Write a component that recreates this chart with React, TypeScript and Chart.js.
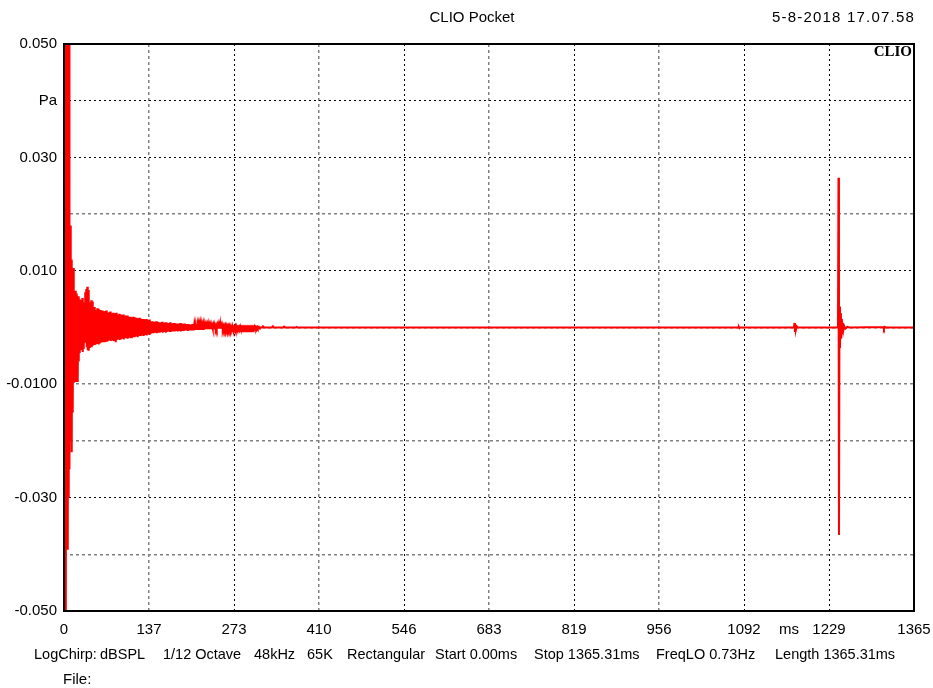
import React, { useEffect, useRef } from "react";
import { Chart, registerables } from "chart.js";

Chart.register(...registerables);

// ---------- data ----------
const X_TICKS_MS = [0, 136.531, 273.062, 409.593, 546.124, 682.655, 819.186, 955.717, 1092.248, 1228.779, 1365.31];
const X_TICK_LABELS = ["0", "137", "273", "410", "546", "683", "819", "956", "1092", "1229", "1365"];
const Y_TICKS = [-0.05, -0.04, -0.03, -0.02, -0.01, 0, 0.01, 0.02, 0.03, 0.04, 0.05];
const Y_TICK_LABELS = ["-0.050", "", "-0.030", "", "-0.0100", "", "0.010", "", "0.030", "Pa", "0.050"];

// initial impulse (ms, Pa)
const IMPULSE_MS = [0, 0.8, 1.6, 2.2, 2.8, 3.4, 4.0, 4.6, 5.2, 5.8, 6.4, 7.0, 7.6, 8.2, 8.8];
const IMPULSE_PA = [0, 0.09, -0.08, 0.085, -0.08, 0.047, -0.013, 0.07, -0.039, 0.065, -0.039, 0.06, -0.03, 0.055, -0.025];

// decaying ringing: per sample pair, the positive peak (RING_HI) then the negative peak (RING_LO)
const RING_START_MS = 10.04;
const RING_STEP_MS = 1.60625;
const RING_HALF_MS = 0.8;
const RING_HI = [
  0.018, 0.012, 0.0105, 0.0105, 0.0065, 0.0065, 0.006, 0.0055, 0.0055, 0.005,
  0.0045, 0.0048, 0.0052, 0.0044, 0.0041, 0.0062, 0.0068, 0.0072, 0.0066, 0.0044,
  0.0042, 0.0048, 0.0046, 0.0035, 0.0036, 0.0031, 0.003, 0.0034, 0.0033, 0.0029,
  0.0031, 0.0028, 0.003, 0.0027, 0.0028, 0.0029, 0.003, 0.0026, 0.0025, 0.0027,
  0.0028, 0.0025, 0.0024, 0.0026, 0.0023, 0.0025, 0.0026, 0.0022, 0.0022, 0.0024,
  0.0023, 0.0021, 0.0022, 0.0023, 0.002, 0.0021, 0.002, 0.0021, 0.0019, 0.0018,
  0.0019, 0.0018, 0.0017, 0.0019, 0.0018, 0.0016, 0.0017, 0.0016, 0.0015, 0.0017,
  0.0016, 0.0015, 0.0014, 0.0015, 0.0014, 0.0014, 0.0015, 0.0013, 0.0013, 0.0014,
  0.0011, 0.001, 0.0011, 0.001, 0.001, 0.0009, 0.0011, 0.001, 0.0009, 0.0009,
  0.0008, 0.0009, 0.001, 0.0008, 0.0008, 0.0009, 0.0009, 0.0008, 0.0007, 0.0008,
  0.0009, 0.0007, 0.0007, 0.0008, 0.0008, 0.0007, 0.0006, 0.0007, 0.0007, 0.0006,
  0.0008, 0.0007, 0.0006, 0.0006, 0.0007, 0.0006, 0.0005, 0.0006, 0.0006, 0.0005,
  0.0005, 0.0005, 0.0006, 0.0005, 0.0004, 0.0004, 0.0005, 0.0004, 0.0004, 0.0004,
  0.0005, 0.0004, 0.0003, 0.0004, 0.0004, 0.0003, 0.0003, 0.0003, 0.0004, 0.0003,
  0.0003, 0.0003, 0.0002, 0.0003, 0.0003, 0.0002, 0.0002, 0.0003, 0.0004, 0.0003,
  0.0006, 0.0003, 0.0003, 0.0002, 0.0002, 0.0002, 0.0002, 0.0002, 0.0002, 0.0002,
  0.0002, 0.0001, 0.0003, 0.0001, 0.0001, 0.0002, 0.0002, 0.0001, 0.0001, 0.0001,
  0.0002, 0.0001, 0.0001, 0.0001, 0.0001, 0.0001, 0.0001, 0.0001, 0.0001, 0.0001,
  0.0001, 0.0001, 0.0001, 0.0001, 0.0002, 0.0001, 0.0001, 0.0001, 0.0001, 0.0001,
];
const RING_LO = [
  -0.02, -0.022, -0.015, -0.0098, -0.0096, -0.0096, -0.008, -0.0096, -0.006, -0.0045,
  -0.0036, -0.004, -0.0043, -0.0038, -0.0027, -0.0026, -0.0035, -0.004, -0.0041, -0.0036,
  -0.0034, -0.0035, -0.0032, -0.0028, -0.0031, -0.003, -0.0029, -0.0027, -0.003, -0.0028,
  -0.0027, -0.0025, -0.0026, -0.0024, -0.0026, -0.0022, -0.0025, -0.0024, -0.0023, -0.0023,
  -0.0024, -0.0021, -0.0023, -0.0024, -0.0022, -0.0026, -0.0022, -0.002, -0.0021, -0.0022,
  -0.0021, -0.0019, -0.002, -0.0021, -0.0019, -0.0018, -0.0019, -0.002, -0.0018, -0.0017,
  -0.0019, -0.0019, -0.0017, -0.0016, -0.0017, -0.0015, -0.0016, -0.0017, -0.0015, -0.0014,
  -0.0015, -0.0013, -0.0014, -0.0015, -0.0013, -0.0013, -0.0014, -0.0012, -0.0012, -0.0013,
  -0.0011, -0.0009, -0.001, -0.001, -0.0009, -0.0009, -0.001, -0.0008, -0.0009, -0.0009,
  -0.0008, -0.0008, -0.0009, -0.0007, -0.0008, -0.0009, -0.0008, -0.0007, -0.0007, -0.0008,
  -0.0008, -0.0006, -0.0007, -0.0007, -0.0007, -0.0006, -0.0006, -0.0007, -0.0006, -0.0005,
  -0.0007, -0.0006, -0.0006, -0.0006, -0.0005, -0.0005, -0.0005, -0.0006, -0.0005, -0.0005,
  -0.0005, -0.0004, -0.0005, -0.0005, -0.0004, -0.0004, -0.0004, -0.0004, -0.0004, -0.0003,
  -0.0004, -0.0004, -0.0003, -0.0004, -0.0003, -0.0003, -0.0003, -0.0003, -0.0003, -0.0003,
  -0.0003, -0.0003, -0.0002, -0.0003, -0.0003, -0.0002, -0.0002, -0.0002, -0.0002, -0.0002,
  -0.0002, -0.0002, -0.0002, -0.0002, -0.0002, -0.0003, -0.0002, -0.0001, -0.0002, -0.0002,
  -0.0001, -0.0001, -0.0001, -0.0001, -0.0001, -0.0002, -0.0001, -0.0001, -0.0001, -0.0001,
  -0.0001, -0.0001, -0.0001, -0.0001, -0.0001, -0.0001, -0.0001, -0.0001, -0.0001, -0.0001,
  -0.0001, -0.0001, -0.0001, 0, -0.0001, -0.0001, 0, -0.0001, 0, 0,
];

// tail: sparse samples, late reflection spike and small blips
const TAIL_MS = [
  318, 319.5, 321, 334, 335.5, 337, 352, 353.5, 355, 372, 373.5, 375, 400,
  1083, 1084, 1085, 1086,
  1172.5, 1173.3, 1174.1, 1174.9, 1175.7, 1177, 1179,
  1243.2, 1244.0, 1244.8, 1245.6, 1246.4, 1247.2, 1248.0, 1248.8, 1249.6, 1250.6, 1251.6, 1253, 1255, 1258, 1262,
  1316, 1317, 1318, 1320, 1365.31,
];
const TAIL_PA = [
  0, 0.0002, 0, 0, 0.0002, 0, 0, 0.00015, 0, 0, 0.0001, 0, 0,
  0, 0.0001, -0.0001, 0,
  0, 0.0008, -0.0008, 0.0005, -0.0004, 0.0002, 0,
  0, 0.0264, -0.0366, 0.0037, -0.0036, 0.0025, -0.002, 0.0015, -0.0012, 0.0008, -0.0006, 0.0003, -0.0002, 0.0001, 0,
  0.0001, -0.0002, 0.0001, 0, 0,
];

// ---------- layout / style (not data) ----------
const W = 933;
const H = 688;
const FONT = "Liberation Sans, Arial, sans-serif";
const INFO_SEGMENTS: [string, number][] = [
  ["LogChirp:", 34],
  ["dBSPL", 100],
  ["1/12 Octave", 163],
  ["48kHz", 254],
  ["65K", 307],
  ["Rectangular", 347],
  ["Start 0.00ms", 435],
  ["Stop 1365.31ms", 534],
  ["FreqLO 0.73Hz", 656],
  ["Length 1365.31ms", 775],
];
const Y_DARK = new Set([2, 6, 8, 9]);
const X_DARK = new Set([2, 4, 6, 8, 9]);

function buildPoints() {
  const pts: { x: number; y: number }[] = [];
  IMPULSE_MS.forEach((t, i) => pts.push({ x: t, y: IMPULSE_PA[i] }));
  RING_HI.forEach((hi, k) => {
    const t = RING_START_MS + k * RING_STEP_MS;
    pts.push({ x: t, y: hi });
    pts.push({ x: t + RING_HALF_MS, y: RING_LO[k] });
  });
  TAIL_MS.forEach((t, i) => pts.push({ x: t, y: TAIL_PA[i] }));
  return pts;
}

const decorPlugin = {
  id: "clioDecor",
  afterDatasetsDraw(chart: any) {
    const { ctx, chartArea } = chart;
    ctx.save();
    ctx.strokeStyle = "#000";
    ctx.lineWidth = 2;
    ctx.strokeRect(chartArea.left, chartArea.top, chartArea.right - chartArea.left, chartArea.bottom - chartArea.top);
    ctx.restore();
  },
  afterDraw(chart: any) {
    const { ctx } = chart;
    ctx.save();
    ctx.fillStyle = "#000";
    ctx.textBaseline = "middle";
    ctx.font = `15px ${FONT}`;
    ctx.textAlign = "center";
    ctx.fillText("CLIO Pocket", 472, 18);
    ctx.textAlign = "left";
    (ctx as any).letterSpacing = "1.2px";
    ctx.fillText("5-8-2018 17.07.58", 772, 18);
    (ctx as any).letterSpacing = "0px";
    ctx.textAlign = "center";
    ctx.fillText("ms", 789, 630);
    ctx.textAlign = "left";
    ctx.font = `14.5px ${FONT}`;
    INFO_SEGMENTS.forEach(([s, x]) => ctx.fillText(s, x, 655));
    ctx.font = `15px ${FONT}`;
    ctx.fillText("File:", 63, 680);
    ctx.font = `bold 15px "Liberation Serif", "Times New Roman", serif`;
    ctx.textAlign = "right";
    ctx.fillText("CLIO", 912, 52);
    ctx.restore();
  },
};

export default function App() {
  const ref = useRef<HTMLCanvasElement | null>(null);
  useEffect(() => {
    document.body.style.margin = "0";
    const canvas = ref.current!;
    const zeroPad = (s: any) => {
      s.paddingLeft = 0;
      s.paddingRight = 0;
      s.paddingTop = 0;
      s.paddingBottom = 0;
    };
    const chart = new Chart(canvas, {
      type: "line",
      data: {
        datasets: [
          {
            data: buildPoints(),
            borderColor: "#ff0000",
            borderWidth: 2,
            pointRadius: 0,
            tension: 0,
            fill: false,
          },
        ],
      },
      options: {
        animation: false,
        responsive: false,
        devicePixelRatio: 1,
        layout: { padding: { top: 44, right: 19, bottom: 0, left: 0 } },
        plugins: { legend: { display: false }, tooltip: { enabled: false }, title: { display: false } },
        scales: {
          x: {
            type: "linear",
            min: 0,
            max: 1365.31,
            afterBuildTicks: (s: any) => {
              s.ticks = X_TICKS_MS.map((v) => ({ value: v }));
            },
            afterFit: (s: any) => {
              s.height = 77;
              zeroPad(s);
            },
            ticks: {
              autoSkip: false,
              maxRotation: 0,
              padding: 10,
              color: "#000",
              font: { family: FONT, size: 15 },
              callback: (_v: any, i: number) => X_TICK_LABELS[i],
            },
            grid: {
              drawTicks: false,
              color: (c: any) => (X_DARK.has(c.index) ? "#000" : "#808080"),
              lineWidth: (c: any) => (X_DARK.has(c.index) ? 1 : 1.5),
            },
            border: {
              display: false,
              dash: (c: any) => (X_DARK.has(c.index) ? [2, 3] : [3, 3]),
            },
          },
          y: {
            type: "linear",
            min: -0.05,
            max: 0.05,
            afterBuildTicks: (s: any) => {
              s.ticks = Y_TICKS.map((v) => ({ value: v }));
            },
            afterFit: (s: any) => {
              s.width = 64;
              zeroPad(s);
            },
            ticks: {
              autoSkip: false,
              padding: 7,
              color: "#000",
              font: { family: FONT, size: 15 },
              callback: (_v: any, i: number) => Y_TICK_LABELS[i],
            },
            grid: {
              drawTicks: false,
              color: (c: any) => (Y_DARK.has(c.index) ? "#000" : "#808080"),
              lineWidth: (c: any) => (Y_DARK.has(c.index) ? 1 : 1.5),
            },
            border: {
              display: false,
              dash: (c: any) => (Y_DARK.has(c.index) ? [2, 3] : [3, 3]),
            },
          },
        },
      },
      plugins: [decorPlugin],
    } as any);
    return () => chart.destroy();
  }, []);
  return (
    <div style={{ position: "absolute", left: 0, top: 0, width: W, height: H, background: "#fff" }}>
      <canvas ref={ref} width={W} height={H} />
    </div>
  );
}
